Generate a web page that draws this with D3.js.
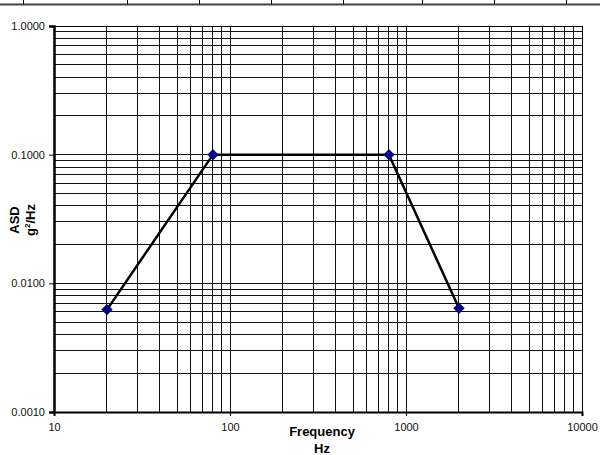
<!DOCTYPE html>
<html>
<head>
<meta charset="utf-8">
<script src="https://cdn.jsdelivr.net/npm/d3@7"></script>
<style>
  body { margin: 0; background: #fff; }
  svg { display: block; font-family: "Liberation Sans", Arial, sans-serif; }
</style>
</head>
<body>
<svg id="chart" width="600" height="455"></svg>
<script>
// Profile breakpoints (Hz, g^2/Hz)
const freqs = [20, 80, 800, 2000];
const asd = [0.00625, 0.1, 0.1, 0.0064];
const xTickLabels = [10, 100, 1000, 10000];
const yTickLabels = [0.001, 0.01, 0.1, 1];

const svg = d3.select('#chart');
const plotLeft = 54, plotRight = 582, plotTop = 26, plotBottom = 412;

const x = d3.scaleLog().domain([10, 10000]).range([plotLeft, plotRight]);
const y = d3.scaleLog().domain([0.001, 1]).range([plotBottom, plotTop]);

// border strip at top of the page (table edge above the chart)
const topStrip = svg.append('g');
topStrip.append('line')
    .attr('x1', 0).attr('x2', 600).attr('y1', 4.5).attr('y2', 4.5)
    .attr('stroke', '#444').attr('stroke-width', 2);
[23.5, 127.5, 199.5, 271.5, 343.5, 422.5, 494.5, 566.5].forEach(px => {
    topStrip.append('line')
        .attr('x1', px).attr('x2', px).attr('y1', 0).attr('y2', 4)
        .attr('stroke', '#000').attr('stroke-width', 1);
});

// grid lines
const grid = svg.append('g').attr('shape-rendering', 'crispEdges');
grid.selectAll('line.vx')
    .data(x.ticks())
    .enter()
    .append('line')
    .attr('x1', d => x(d)).attr('x2', d => x(d))
    .attr('y1', plotTop).attr('y2', plotBottom)
    .attr('stroke', '#111').attr('stroke-width', 1);
grid.selectAll('line.hy')
    .data(y.ticks())
    .enter()
    .append('line')
    .attr('x1', plotLeft).attr('x2', plotRight)
    .attr('y1', d => y(d)).attr('y2', d => y(d))
    .attr('stroke', '#111').attr('stroke-width', 1);

// plot border
grid.append('rect')
    .attr('x', plotLeft).attr('y', plotTop)
    .attr('width', plotRight - plotLeft).attr('height', plotBottom - plotTop)
    .attr('fill', 'none').attr('stroke', '#000').attr('stroke-width', 1);

// axes
const xAxis = d3.axisBottom(x).tickValues(xTickLabels).tickSize(4).tickPadding(7)
    .tickFormat(d3.format('d'));
const gx = svg.append('g').attr('transform', `translate(0,${plotBottom})`).call(xAxis);
gx.select('.domain').attr('stroke-width', 2);

const yAxis = d3.axisLeft(y).tickValues(yTickLabels).tickSize(5).tickPadding(4)
    .tickFormat(d3.format('.4f'));
const gy = svg.append('g').attr('transform', `translate(${plotLeft},0)`).call(yAxis);
gy.select('.domain').attr('stroke-width', 2.5);

[gx, gy].forEach(g => {
    g.selectAll('text').attr('font-size', 11).attr('fill', '#111')
        .attr('font-family', '"Liberation Sans", Arial, sans-serif');
    g.selectAll('.tick line').attr('stroke', '#000');
});

// axis titles
svg.append('text')
    .attr('x', 322).attr('y', 436)
    .attr('text-anchor', 'middle')
    .attr('font-size', 13).attr('font-weight', 'bold')
    .text('Frequency');
svg.append('text')
    .attr('x', 322).attr('y', 453)
    .attr('text-anchor', 'middle')
    .attr('font-size', 13).attr('font-weight', 'bold')
    .text('Hz');

svg.append('text')
    .attr('transform', 'translate(19,220) rotate(-90)')
    .attr('text-anchor', 'middle')
    .attr('font-size', 13).attr('font-weight', 'bold')
    .text('ASD');
const yt2 = svg.append('text')
    .attr('transform', 'translate(35,220) rotate(-90)')
    .attr('text-anchor', 'middle')
    .attr('font-size', 13).attr('font-weight', 'bold');
yt2.append('tspan').text('g');
yt2.append('tspan').attr('font-size', 8).attr('dy', -5).text('2');
yt2.append('tspan').attr('dy', 5).text('/Hz');

// profile line
const points = freqs.map((f, i) => [f, asd[i]]);
const line = d3.line().x(d => x(d[0])).y(d => y(d[1]));
svg.append('path')
    .datum(points)
    .attr('d', line)
    .attr('fill', 'none')
    .attr('stroke', '#000')
    .attr('stroke-width', 2.5);

// diamond markers
svg.selectAll('path.marker')
    .data(points)
    .enter()
    .append('path')
    .attr('class', 'marker')
    .attr('d', d3.symbol().type(d3.symbolSquare).size(64))
    .attr('transform', d => `translate(${x(d[0])},${y(d[1])}) rotate(45)`)
    .attr('fill', '#000080');
</script>
</body>
</html>
